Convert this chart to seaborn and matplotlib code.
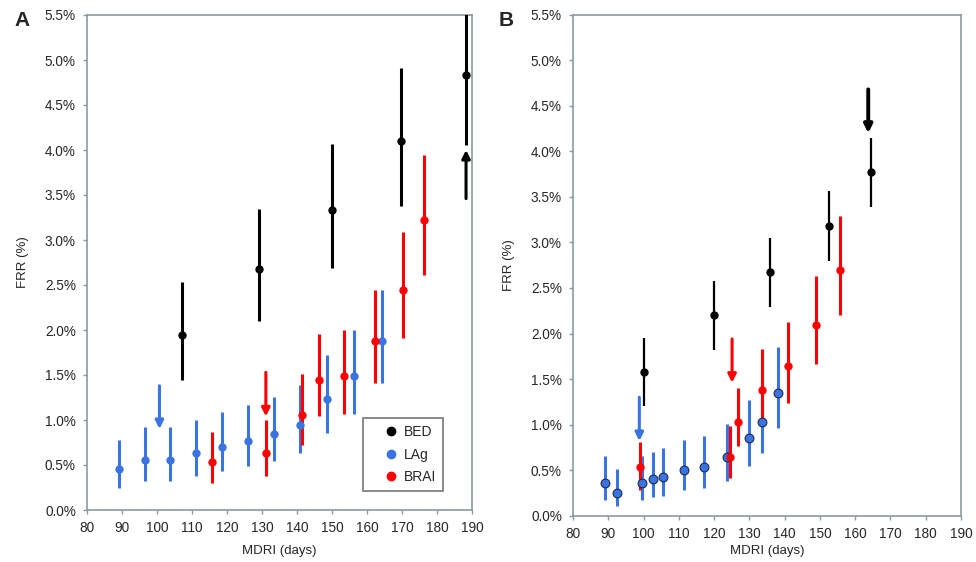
import matplotlib
matplotlib.use("Agg")
import matplotlib.pyplot as plt
from matplotlib.ticker import FuncFormatter, MultipleLocator
from matplotlib.lines import Line2D
import seaborn as sns
import pandas as pd

# ---------------- data: panel A ----------------
a_bed_x = [107.2, 129.1, 150.0, 169.7, 188.3]
a_bed_y = [1.94, 2.68, 3.33, 4.10, 4.83]
a_bed_lo = [1.45, 2.10, 2.69, 3.38, 4.06]
a_bed_hi = [2.53, 3.34, 4.07, 4.91, 5.60]

a_lag_x = [89.2, 96.7, 103.8, 111.2, 118.6, 126.0, 133.4, 140.9, 148.6, 156.3, 164.2]
a_lag_y = [0.46, 0.56, 0.56, 0.63, 0.70, 0.77, 0.84, 0.95, 1.23, 1.49, 1.88]
a_lag_lo = [0.24, 0.32, 0.32, 0.38, 0.43, 0.49, 0.54, 0.63, 0.86, 1.07, 1.41]
a_lag_hi = [0.78, 0.92, 0.92, 1.00, 1.09, 1.17, 1.26, 1.39, 1.72, 2.00, 2.44]

a_brai_x = [115.8, 131.1, 141.4, 146.2, 153.3, 162.4, 170.3, 176.3]
a_brai_y = [0.53, 0.63, 1.06, 1.45, 1.49, 1.88, 2.44, 3.22]
a_brai_lo = [0.30, 0.38, 0.72, 1.04, 1.07, 1.41, 1.91, 2.61]
a_brai_hi = [0.87, 1.00, 1.51, 1.96, 2.00, 2.44, 3.09, 3.94]

# arrows: (series, x, start, end)
a_arrows = [("LAg", 100.7, 1.38, 0.90), ("BRAI", 131.1, 1.53, 1.04), ("BED", 188.3, 3.46, 4.00)]

# ---------------- data: panel B ----------------
b_bed_x = [100.0, 119.9, 135.9, 152.7, 164.6]
b_bed_y = [1.58, 2.20, 2.67, 3.18, 3.77]
b_bed_lo = [1.20, 1.82, 2.29, 2.80, 3.39]
b_bed_hi = [1.95, 2.58, 3.05, 3.56, 4.15]

b_lag_x = [89.0, 92.6, 99.7, 102.8, 105.6, 111.4, 117.0, 123.8, 129.9, 133.7, 138.2]
b_lag_y = [0.36, 0.25, 0.36, 0.40, 0.43, 0.50, 0.54, 0.64, 0.85, 1.03, 1.35]
b_lag_lo = [0.17, 0.11, 0.17, 0.20, 0.22, 0.28, 0.30, 0.38, 0.55, 0.69, 0.96]
b_lag_hi = [0.66, 0.51, 0.66, 0.70, 0.74, 0.83, 0.88, 1.01, 1.27, 1.43, 1.85]

b_brai_x = [99.1, 124.5, 126.9, 133.7, 140.9, 149.0, 155.6]
b_brai_y = [0.54, 0.64, 1.03, 1.38, 1.64, 2.09, 2.70]
b_brai_lo = [0.28, 0.41, 0.77, 1.00, 1.24, 1.66, 2.20]
b_brai_hi = [0.81, 0.99, 1.40, 1.83, 2.13, 2.63, 3.29]

b_arrows = [("LAg", 98.8, 1.30, 0.82), ("BRAI", 125.1, 1.94, 1.46), ("BED", 163.7, 4.68, 4.20)]

series_names = ["BED", "LAg", "BRAI"]
x_ticks = [80, 90, 100, 110, 120, 130, 140, 150, 160, 170, 180, 190]

colors = {"BED": "#000000", "LAg": "#3a74e0", "BRAI": "#ff0000"}

sns.set_style("white")
plt.rcParams["font.family"] = ["Liberation Sans", "DejaVu Sans"]

fig = plt.figure(figsize=(9.76, 5.62), dpi=100)
axA = fig.add_axes([87 / 976, 1 - 510 / 562, 385 / 976, 495 / 562])
axB = fig.add_axes([573 / 976, 1 - 515.7 / 562, 388 / 976, 501 / 562])

spine_col = "#8a9a9e"


def build(bed, lag, brai):
    rows = []
    for name, (xs, ys, los, his) in zip(series_names, [bed, lag, brai]):
        for x, y, lo, hi in zip(xs, ys, los, his):
            rows.append(dict(series=name, MDRI=x, FRR=y, lo=lo, hi=hi))
    return pd.DataFrame(rows)


dfA = build((a_bed_x, a_bed_y, a_bed_lo, a_bed_hi),
            (a_lag_x, a_lag_y, a_lag_lo, a_lag_hi),
            (a_brai_x, a_brai_y, a_brai_lo, a_brai_hi))
dfB = build((b_bed_x, b_bed_y, b_bed_lo, b_bed_hi),
            (b_lag_x, b_lag_y, b_lag_lo, b_lag_hi),
            (b_brai_x, b_brai_y, b_brai_lo, b_brai_hi))


def draw(ax, df, arrows, panel):
    if panel == "A":
        lw = {"BED": 2.2, "LAg": 2.2, "BRAI": 2.2}
        size = {"BED": 36, "LAg": 36, "BRAI": 36}
    else:
        lw = {"BED": 1.6, "LAg": 2.2, "BRAI": 2.2}
        size = {"BED": 36, "LAg": 40, "BRAI": 36}
    order = ["LAg", "BRAI", "BED"]
    for z, name in enumerate(order):
        sub = df[df.series == name]
        ax.vlines(sub.MDRI, sub.lo, sub.hi, color=colors[name], lw=lw[name], zorder=2 + z)
    for z, name in enumerate(order):
        sub = df[df.series == name]
        outlined = panel == "B" and name == "LAg"
        sns.scatterplot(data=sub, x="MDRI", y="FRR", color=colors[name], s=size[name],
                        edgecolor="#1a2a55" if outlined else colors[name],
                        linewidth=0.8 if outlined else 0,
                        ax=ax, zorder=5 + z, legend=False)
    for name, x, y0, y1 in arrows:
        alw = 2.8 if (panel == "B" and name == "BED") else 2.2
        ax.annotate("", xy=(x, y1), xytext=(x, y0),
                    arrowprops=dict(arrowstyle="-|>", color=colors[name], lw=alw,
                                    mutation_scale=12, shrinkA=0, shrinkB=0),
                    zorder=8)
    ax.set_xlim(80, 190)
    ax.set_ylim(0, 5.5)
    ax.set_xticks(x_ticks)
    ax.yaxis.set_major_locator(MultipleLocator(0.5))
    ax.yaxis.set_major_formatter(FuncFormatter(lambda v, p: f"{v:.1f}%"))
    ax.set_xlabel("MDRI (days)", fontsize=9.5, labelpad=7 if panel == "A" else 3)
    ax.set_ylabel("FRR (%)", fontsize=9.5, labelpad=11)
    ax.tick_params(axis="both", labelsize=9.8, length=3, width=1, color=spine_col,
                   direction="out", bottom=True, left=True, pad=5)
    for s in ax.spines.values():
        s.set_color(spine_col)
        s.set_linewidth(1.2)


draw(axA, dfA, a_arrows, "A")
draw(axB, dfB, b_arrows, "B")

# legend panel A
handles = [Line2D([], [], marker="o", ls="", color=colors[n], markersize=6) for n in series_names]
leg = axA.legend(handles, series_names, loc="lower right", bbox_to_anchor=(0.925, 0.038),
                 frameon=True, fancybox=False, edgecolor="#555555", fontsize=10,
                 handletextpad=-0.55, labelspacing=0.62, borderpad=0.5, handlelength=3.0,
                 borderaxespad=0)
leg.get_frame().set_linewidth(1.2)

fig.text(14 / 976, 1 - 20 / 562, "A", fontsize=15, fontweight="bold", ha="left", va="center")
fig.text(499 / 976, 1 - 20 / 562, "B", fontsize=15, fontweight="bold", ha="left", va="center")

fig.savefig("out.png", dpi=100)
